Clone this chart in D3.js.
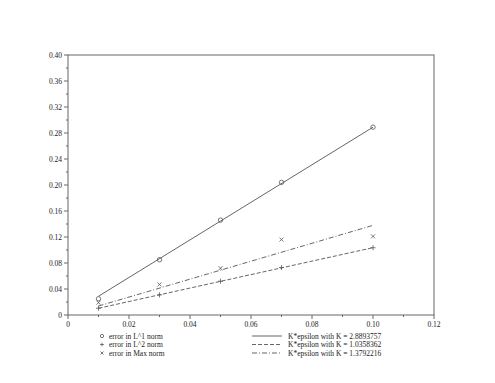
<!DOCTYPE html>
<html>
<head>
<meta charset="utf-8">
<script src="https://cdn.jsdelivr.net/npm/d3@7"></script>
<style>
  body { margin: 0; background: #fff; }
  text { font-family: "Liberation Serif", "DejaVu Serif", serif; font-size: 7.5px; fill: #222; }
</style>
</head>
<body>
<svg id="chart" width="495" height="383"></svg>
<script>
// Data
const epsilons = [0.01, 0.03, 0.05, 0.07, 0.1];
const errL1 = [0.025, 0.085, 0.146, 0.204, 0.289];
const errL2 = [0.0105, 0.031, 0.052, 0.073, 0.1035];
const errMax = [0.019, 0.047, 0.072, 0.116, 0.121];
const fitK = [2.8893757, 1.0358362, 1.3792216];
const fitLabels = ['K*epsilon with K = 2.8893757', 'K*epsilon with K = 1.0358362', 'K*epsilon with K = 1.3792216'];
const pointLabels = ['error in L^1 norm', 'error in L^2 norm', 'error in Max norm'];
const xTicks = [0, 0.02, 0.04, 0.06, 0.08, 0.10, 0.12];
const yTicks = [0, 0.04, 0.08, 0.12, 0.16, 0.20, 0.24, 0.28, 0.32, 0.36, 0.40];

const svg = d3.select('#chart');
const margin = { left: 68, right: 61, top: 55, bottom: 68 };
const width = 495 - margin.left - margin.right;
const height = 383 - margin.top - margin.bottom;
const axisColor = '#666';
const markColor = '#555';

const x = d3.scaleLinear().domain([0, 0.12]).range([margin.left, margin.left + width]);
const y = d3.scaleLinear().domain([0, 0.40]).range([margin.top + height, margin.top]);

// Frame
svg.append('rect')
    .attr('x', margin.left).attr('y', margin.top)
    .attr('width', width).attr('height', height)
    .attr('fill', 'none').attr('stroke', axisColor).attr('stroke-width', 1);

// X axis
const xAxis = svg.append('g');
d3.range(0, 0.1201, 0.01).forEach(v => {
    const major = Math.round(v * 100) % 2 === 0;
    xAxis.append('line')
        .attr('x1', x(v)).attr('x2', x(v))
        .attr('y1', y(0)).attr('y2', y(0) + (major ? 4 : 2))
        .attr('stroke', axisColor);
});
xAxis.selectAll('text').data(xTicks).enter().append('text')
    .attr('x', d => x(d)).attr('y', y(0) + 12)
    .attr('text-anchor', 'middle')
    .text(d => d === 0 ? '0' : d.toFixed(2));

// Y axis
const yAxis = svg.append('g');
d3.range(0, 0.4001, 0.02).forEach(v => {
    const major = Math.round(v * 100) % 4 === 0;
    yAxis.append('line')
        .attr('x1', x(0) - (major ? 4 : 2)).attr('x2', x(0))
        .attr('y1', y(v)).attr('y2', y(v))
        .attr('stroke', axisColor);
});
yAxis.selectAll('text').data(yTicks).enter().append('text')
    .attr('x', x(0) - 6).attr('y', d => y(d) + 2.5)
    .attr('text-anchor', 'end')
    .text(d => d === 0 ? '0' : d.toFixed(2));

// Fitted lines
const dashes = [null, '4,2', '5,2,1,2'];
const lineGen = d3.line().x(d => x(d[0])).y(d => y(d[1]));
fitK.forEach((k, i) => {
    const pts = [[epsilons[0], k * epsilons[0]], [epsilons[epsilons.length - 1], k * epsilons[epsilons.length - 1]]];
    svg.append('path')
        .attr('d', lineGen(pts))
        .attr('fill', 'none')
        .attr('stroke', markColor)
        .attr('stroke-width', 0.9)
        .attr('stroke-dasharray', dashes[i]);
});

// Markers
function drawMarker(g, kind, cx, cy, s) {
    if (kind === 0) {
        g.append('circle').attr('cx', cx).attr('cy', cy).attr('r', 2.2 * s)
            .attr('fill', 'none').attr('stroke', markColor).attr('stroke-width', 0.8);
    } else if (kind === 1) {
        g.append('path').attr('d', `M${cx - 2.5 * s},${cy}H${cx + 2.5 * s}M${cx},${cy - 2.5 * s}V${cy + 2.5 * s}`)
            .attr('stroke', markColor).attr('stroke-width', 0.8);
    } else {
        g.append('path').attr('d', `M${cx - 2 * s},${cy - 2 * s}L${cx + 2 * s},${cy + 2 * s}M${cx - 2 * s},${cy + 2 * s}L${cx + 2 * s},${cy - 2 * s}`)
            .attr('stroke', markColor).attr('stroke-width', 0.8);
    }
}
const marks = svg.append('g');
[errL1, errL2, errMax].forEach((series, k) => {
    series.forEach((v, i) => drawMarker(marks, k, x(epsilons[i]), y(v), 1));
});

// Legend
const legend = svg.append('g');
pointLabels.forEach((lab, i) => {
    const ly = 336 + i * 8.5;
    drawMarker(legend, i, 102, ly, 0.75);
    legend.append('text').attr('x', 109).attr('y', ly + 2.5).text(lab);
});
fitLabels.forEach((lab, i) => {
    const ly = 336 + i * 8.5;
    legend.append('line')
        .attr('x1', 252).attr('x2', 282).attr('y1', ly).attr('y2', ly)
        .attr('stroke', markColor).attr('stroke-width', 0.9)
        .attr('stroke-dasharray', dashes[i]);
    legend.append('text').attr('x', 288).attr('y', ly + 2.5).text(lab);
});
</script>
</body>
</html>
